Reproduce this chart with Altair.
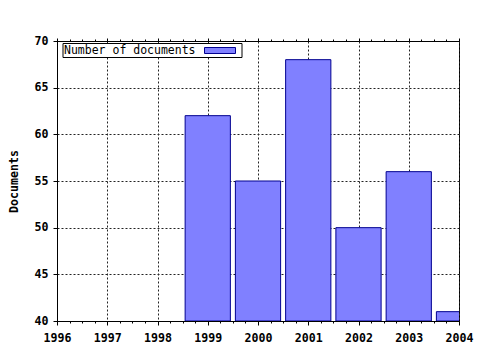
import altair as alt
import pandas as pd

years = [1999, 2000, 2001, 2002, 2003, 2004]
documents = [62, 55, 68, 50, 56, 41]
series_name = "Number of documents"
y_title = "Documents"
x_ticks = [1996 + i * 0.25 for i in range(33)]
y_ticks = [40, 45, 50, 55, 60, 65, 70]

df = pd.DataFrame({"year": years, "documents": documents})
legend_df = pd.DataFrame({"label": [series_name]})

FONT = "DejaVu Sans Mono"
FILL = "#8080ff"
EDGE = "#000090"
major = "datum.value % 1 === 0"

xscale = alt.Scale(domain=[1996, 2004], nice=False, zero=False)
yscale = alt.Scale(domain=[40, 70], nice=False, zero=False)

bars = (
    alt.Chart(df)
    .transform_calculate(x0="datum.year - 0.45", x1="datum.year + 0.45")
    .mark_bar(clip=True, fill=FILL, stroke=EDGE, strokeWidth=1)
    .encode(
        x=alt.X(
            "x0:Q",
            scale=xscale,
            title=None,
            axis=alt.Axis(
                values=x_ticks,
                labelExpr=f"{major} ? format(datum.value, 'd') : ''",
                tickSize={"condition": {"test": major, "value": 4}, "value": 2},
                gridOpacity={"condition": {"test": major, "value": 1}, "value": 0},
                labelFlush=False,
                labelOverlap=False,
                labelPadding=7,
                grid=True,
            ),
        ),
        x2="x1:Q",
        y=alt.Y(
            "documents:Q",
            scale=yscale,
            axis=alt.Axis(
                values=y_ticks,
                tickSize=4,
                labelPadding=5,
                grid=True,
                title=y_title,
                titleAngle=270,
                titleX=-43,
                titleY=140,
                titleAlign="center",
                titleBaseline="middle",
            ),
        ),
        y2=alt.datum(40),
    )
)

top_axis = (
    alt.Chart(df)
    .mark_tick(opacity=0)
    .encode(
        x=alt.X(
            "year:Q",
            scale=xscale,
            title=None,
            axis=alt.Axis(
                orient="top",
                values=x_ticks,
                labels=False,
                grid=False,
                tickSize={"condition": {"test": major, "value": 3}, "value": 2},
            ),
        )
    )
)

legend_box = alt.Chart(legend_df).mark_rect(fill="white", stroke="black", strokeWidth=1).encode(
    x=alt.value(6), x2=alt.value(185), y=alt.value(2.5), y2=alt.value(16.5)
)
legend_text = alt.Chart(legend_df).mark_text(
    font=FONT, fontSize=11.5, align="left", baseline="middle", color="black"
).encode(x=alt.value(7), y=alt.value(9.5), text="label:N")
legend_swatch = alt.Chart(legend_df).mark_rect(fill=FILL, stroke=EDGE, strokeWidth=1).encode(
    x=alt.value(147.5), x2=alt.value(178.5), y=alt.value(6.5), y2=alt.value(12.5)
)

chart = (
    alt.layer(bars, top_axis, legend_box, legend_text, legend_swatch)
    .resolve_axis(x="independent")
    .properties(
        width=402,
        height=280,
        autosize="none",
        padding={"left": 57, "top": 41, "right": 21, "bottom": 29},
        background="white",
    )
    .configure_view(stroke="black", strokeWidth=1)
    .configure_axis(
        domainColor="black",
        tickColor="black",
        gridColor="#222222",
        gridDash=[2, 2],
        gridWidth=1,
        labelFont=FONT,
        labelFontSize=11.6,
        labelFontWeight="bold",
        labelColor="black",
        titleFont=FONT,
        titleFontSize=11.6,
        titleFontWeight="bold",
        titleColor="black",
    )
)

chart.save("out.html", embed_options={"renderer": "svg", "actions": False})
